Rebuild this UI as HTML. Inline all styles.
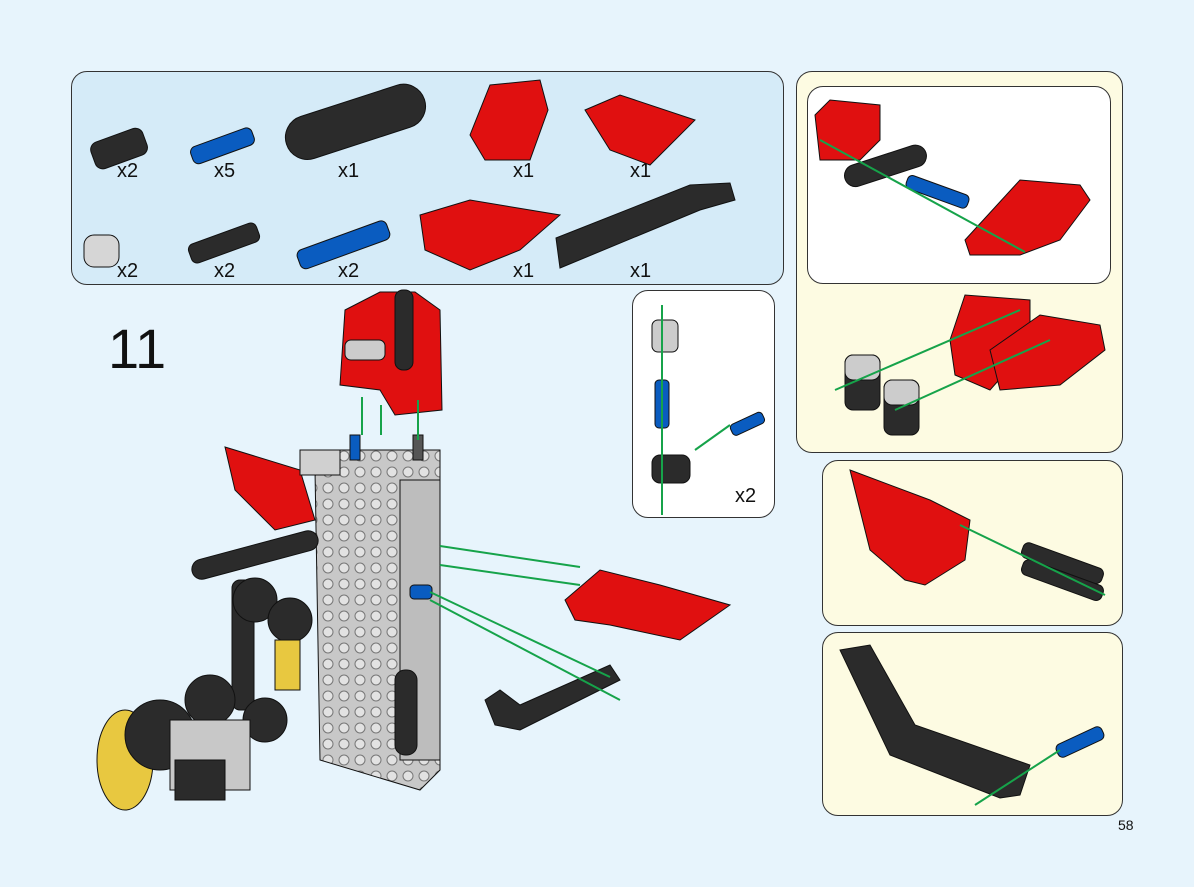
<!DOCTYPE html>
<html><head><style>
body{margin:0;width:1194px;height:887px;background:#e7f4fc;position:relative;overflow:hidden;font-family:"Liberation Sans",sans-serif}
.p{position:absolute;border:1.2px solid #333;border-radius:16px;box-sizing:border-box}
.t{position:absolute;font-size:20px;color:#111}
svg{position:absolute;left:0;top:0}
</style></head><body>
<div class="p" style="left:71px;top:71px;width:713px;height:214px;background:#d5ebf8"></div>
<div class="p" style="left:796px;top:71px;width:327px;height:382px;background:#fdfbe2"></div>
<div class="p" style="left:807px;top:86px;width:304px;height:198px;background:#fff"></div>
<div class="p" style="left:632px;top:290px;width:143px;height:228px;background:#fff"></div>
<div class="p" style="left:822px;top:460px;width:301px;height:166px;background:#fdfbe2"></div>
<div class="p" style="left:822px;top:632px;width:301px;height:184px;background:#fdfbe2"></div>
<div class="t" style="left:117px;top:160px">x2</div>
<div class="t" style="left:214px;top:160px">x5</div>
<div class="t" style="left:338px;top:160px">x1</div>
<div class="t" style="left:513px;top:160px">x1</div>
<div class="t" style="left:630px;top:160px">x1</div>
<div class="t" style="left:117px;top:260px">x2</div>
<div class="t" style="left:214px;top:260px">x2</div>
<div class="t" style="left:338px;top:260px">x2</div>
<div class="t" style="left:513px;top:260px">x1</div>
<div class="t" style="left:630px;top:260px">x1</div>
<div class="t" style="left:735px;top:485px">x2</div>
<div class="t" style="left:108px;top:316px;font-size:56px">11</div>
<div class="t" style="left:1118px;top:817px;font-size:14px">58</div>
<svg width="1194" height="887">
<defs><pattern id="st" width="16" height="16" patternUnits="userSpaceOnUse"><rect width="16" height="16" fill="#c8c8c8"/><circle cx="8" cy="8" r="5" fill="#e2e2e2" stroke="#777" stroke-width="1"/></pattern></defs>
<g stroke="#111" stroke-width="1">
<rect x="92" y="135" width="55" height="28" rx="8" fill="#2b2b2b" transform="rotate(-20 118 150)"/>
<rect x="190" y="137" width="65" height="18" rx="6" fill="#0a5cc0" transform="rotate(-20 222 146)"/>
<rect x="283" y="100" width="145" height="44" rx="22" fill="#2b2b2b" transform="rotate(-18 355 122)"/>
<path d="M470 135 L490 85 L540 80 L548 110 L530 160 L485 160 Z" fill="#e01010"/>
<path d="M585 110 L620 95 L695 120 L650 165 L610 150 Z" fill="#e01010"/>
<rect x="84" y="235" width="35" height="32" rx="10" fill="#d6d6d6"/>
<rect x="188" y="233" width="72" height="20" rx="6" fill="#2b2b2b" transform="rotate(-20 224 243)"/>
<rect x="296" y="235" width="95" height="20" rx="6" fill="#0a5cc0" transform="rotate(-20 343 245)"/>
<path d="M420 215 L470 200 L560 215 L520 250 L470 270 L425 250 Z" fill="#e01010"/>
<path d="M556 238 L690 185 L730 183 L735 200 L700 210 L560 268 Z" fill="#2b2b2b"/>
<path d="M815 115 L830 100 L880 105 L880 140 L860 160 L820 160 Z" fill="#e01010"/>
<rect x="843" y="155" width="85" height="22" rx="11" fill="#2b2b2b" transform="rotate(-18 885 166)"/>
<rect x="905" y="185" width="65" height="14" rx="5" fill="#0a5cc0" transform="rotate(20 938 192)"/>
<path d="M965 240 L1020 180 L1080 185 L1090 200 L1060 240 L1020 255 L970 255 Z" fill="#e01010"/>
<path d="M950 340 L965 295 L1030 300 L1030 345 L990 390 L955 375 Z" fill="#e01010"/>
<path d="M990 350 L1040 315 L1100 325 L1105 350 L1060 385 L1000 390 Z" fill="#e01010"/>
<rect x="845" y="355" width="35" height="55" rx="8" fill="#2b2b2b"/>
<rect x="884" y="380" width="35" height="55" rx="8" fill="#2b2b2b"/>
<rect x="845" y="355" width="35" height="25" rx="8" fill="#ccc"/>
<rect x="884" y="380" width="35" height="25" rx="8" fill="#ccc"/>
<path d="M850 470 L930 500 L970 520 L965 560 L925 585 L905 580 L870 550 Z" fill="#e01010"/>
<rect x="1020" y="555" width="85" height="16" rx="6" fill="#2b2b2b" transform="rotate(20 1062 563)"/>
<rect x="1020" y="572" width="85" height="16" rx="6" fill="#2b2b2b" transform="rotate(20 1062 580)"/>
<path d="M840 650 L870 645 L915 725 L1030 765 L1020 795 L1000 798 L890 755 Z" fill="#2b2b2b"/>
<rect x="1055" y="735" width="50" height="14" rx="5" fill="#0a5cc0" transform="rotate(-25 1080 742)"/>
<rect x="652" y="320" width="26" height="32" rx="6" fill="#ccc"/>
<rect x="655" y="380" width="14" height="48" rx="4" fill="#0a5cc0"/>
<rect x="652" y="455" width="38" height="28" rx="8" fill="#2b2b2b"/>
<rect x="730" y="418" width="35" height="12" rx="4" fill="#0a5cc0" transform="rotate(-25 747 424)"/>
<path d="M345 310 L380 292 L415 292 L440 310 L442 410 L395 415 L380 390 L340 385 Z" fill="#e01010"/>
<rect x="395" y="290" width="18" height="80" rx="8" fill="#2b2b2b"/>
<rect x="345" y="340" width="40" height="20" rx="6" fill="#ccc"/>
<path d="M225 447 L300 470 L315 520 L275 530 L235 490 Z" fill="#e01010"/>
<path d="M315 470 L340 450 L440 450 L440 770 L420 790 L320 760 Z" fill="url(#st)"/>
<rect x="300" y="450" width="40" height="25" fill="#d0d0d0"/>
<rect x="400" y="480" width="40" height="280" fill="#bdbdbd"/>
<rect x="395" y="670" width="22" height="85" rx="10" fill="#2b2b2b"/>
<rect x="350" y="435" width="10" height="25" fill="#0a5cc0"/>
<rect x="413" y="435" width="10" height="25" fill="#555"/>
<rect x="410" y="585" width="22" height="14" rx="4" fill="#0a5cc0"/>
<rect x="190" y="545" width="130" height="20" rx="10" fill="#2b2b2b" transform="rotate(-15 255 555)"/>
<rect x="232" y="580" width="22" height="130" rx="8" fill="#2b2b2b"/>
<circle cx="255" cy="600" r="22" fill="#2b2b2b"/>
<circle cx="290" cy="620" r="22" fill="#2b2b2b"/>
<ellipse cx="125" cy="760" rx="28" ry="50" fill="#e8c840"/>
<circle cx="160" cy="735" r="35" fill="#2b2b2b"/>
<circle cx="210" cy="700" r="25" fill="#2b2b2b"/>
<circle cx="265" cy="720" r="22" fill="#2b2b2b"/>
<rect x="170" y="720" width="80" height="70" fill="#c8c8c8"/>
<rect x="175" y="760" width="50" height="40" fill="#2b2b2b"/>
<rect x="275" y="640" width="25" height="50" fill="#e8c840"/>
<path d="M565 600 L600 570 L660 585 L730 605 L680 640 L610 625 L575 620 Z" fill="#e01010"/>
<path d="M485 700 L500 690 L520 705 L610 665 L620 680 L520 730 L495 725 Z" fill="#2b2b2b"/>
</g>
<g stroke="#16a34a" stroke-width="2" fill="#16a34a">
<line x1="362" y1="397" x2="362" y2="435"/><line x1="381" y1="405" x2="381" y2="435"/><line x1="418" y1="400" x2="418" y2="440"/>
<line x1="580" y1="567" x2="440" y2="546"/><line x1="580" y1="585" x2="440" y2="565"/>
<line x1="610" y1="677" x2="430" y2="592"/><line x1="620" y1="700" x2="430" y2="600"/>
<line x1="662" y1="305" x2="662" y2="515"/><line x1="730" y1="425" x2="695" y2="450"/>
<line x1="820" y1="140" x2="1025" y2="252"/><line x1="835" y1="390" x2="1020" y2="310"/><line x1="895" y1="410" x2="1050" y2="340"/>
<line x1="1105" y1="595" x2="960" y2="525"/><line x1="1060" y1="750" x2="975" y2="805"/>
</g>
</svg>
</body></html>
